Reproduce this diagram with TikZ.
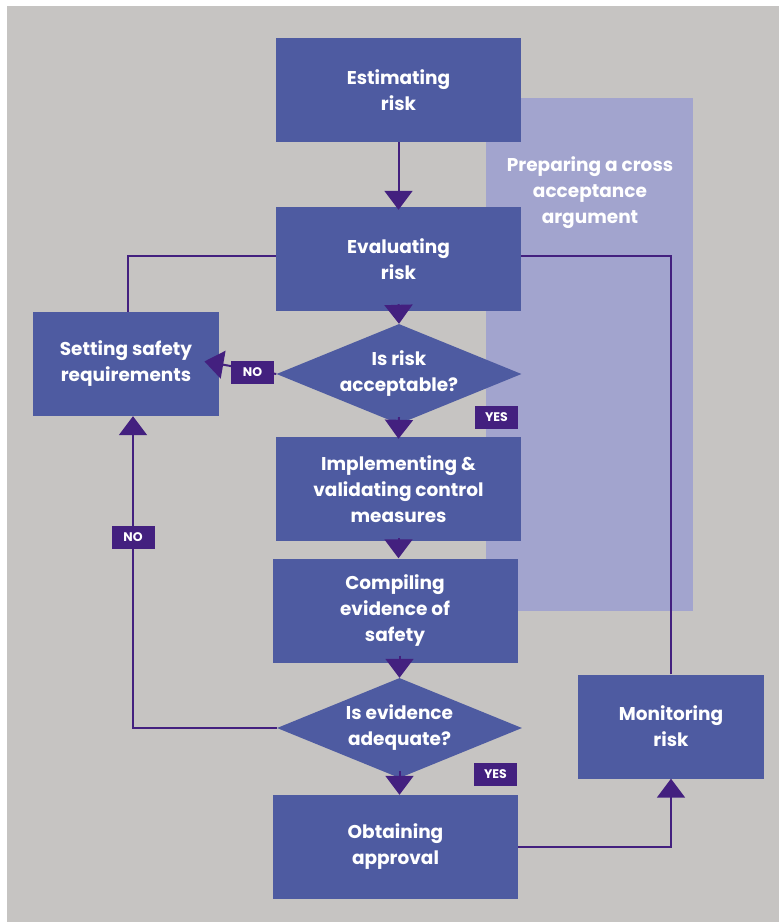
\documentclass[tikz,border=0pt]{standalone}
\usepackage{fontspec}
\setmainfont{Poppins}
\usetikzlibrary{arrows.meta,shapes.geometric,calc}

\definecolor{pagegray}{HTML}{C6C4C2}
\definecolor{boxblue}{HTML}{4E5BA1}
\definecolor{panelblue}{HTML}{A2A4CE}
\definecolor{linkpurple}{HTML}{43207F}

\tikzset{
  boxfont/.style={font=\fontsize{18.5}{26}\selectfont\bfseries},
  stepbox/.style={rectangle, fill=boxblue, text=white, align=center,
    minimum width=245pt, minimum height=104pt, inner sep=0pt, boxfont},
  sidebox/.style={stepbox, minimum width=186pt},
  decision/.style={diamond, aspect=2.45, fill=boxblue, text=white, align=center,
    minimum width=245pt, minimum height=100pt, inner sep=0pt, boxfont},
  tag/.style={rectangle, fill=linkpurple, text=white, inner sep=0pt,
    minimum width=43pt, minimum height=23pt,
    font=\fontsize{12.5}{13}\selectfont\bfseries},
  link/.style={draw=linkpurple, line width=2pt},
  flow/.style={link, -{Triangle[width=28pt,length=19pt]}},
}

\begin{document}
\begin{tikzpicture}[x=1pt,y=-1pt]
  % page and grey background
  \useasboundingbox (0,0) rectangle (779,922);
  \fill[white] (0,0) rectangle (779,922);
  \fill[pagegray] (7,6) rectangle (779,922);

  % cross acceptance panel
  \fill[panelblue] (486,98) rectangle (693,611);
  \node[text=white, align=center, boxfont]
    (panel) at (590,193) {Preparing a cross\\acceptance\\argument};

  % process steps
  \node[stepbox] (est)  at (398.5,90)  {Estimating\\risk};
  \node[stepbox] (eval) at (398.5,259) {Evaluating\\risk};
  \node[sidebox] (set)  at (126,364)   {Setting safety\\requirements};
  \node[decision] (d1)  at (399,374)   {Is risk\\acceptable?};
  \node[stepbox] (impl) at (398.5,489) {Implementing \&\\validating control\\measures};
  \node[stepbox] (comp) at (395,610.5) {Compiling\\evidence of\\safety};
  \node[decision] (d2)  at (399.5,728) {Is evidence\\adequate?};
  \node[stepbox] (obt)  at (395.5,847) {Obtaining\\approval};
  \node[sidebox] (mon)  at (671,726.5) {Monitoring\\risk};

  % connectors
  \draw[flow] (est.south) -- ([yshift=-3pt]eval.north);
  \draw[link] ([yshift=3pt]eval.west) -| ([xshift=2pt]set.north);
  \draw[flow] ([yshift=7pt]eval.south) -- (d1.north);
  \draw[flow, shorten >=-15pt] (d1.west) -- (set.east);
  \draw[flow] ([yshift=7pt]d1.south) -- ([yshift=-2pt]impl.north);
  \draw[flow] ([yshift=3pt]impl.south) -- (impl.south |- comp.north);
  \draw[flow] ([yshift=7pt]comp.south -| d2.north) -- (d2.north);
  \draw[flow] ([yshift=7pt]d2.south) -- (d2.south |- obt.north);
  \draw[flow] (d2.west) -| ([xshift=7pt]set.south);
  \draw[flow] (obt.east) -| (mon.south);
  \draw[link] (mon.north) |- ([yshift=3pt]eval.east);

  % branch labels
  \node[tag] (no1)  at (252.5,372.5) {NO};
  \node[tag] (yes1) at (496.5,417.5) {YES};
  \node[tag] (no2)  at (133,537)     {NO};
  \node[tag] (yes2) at (495.5,774)   {YES};
\end{tikzpicture}
\end{document}
